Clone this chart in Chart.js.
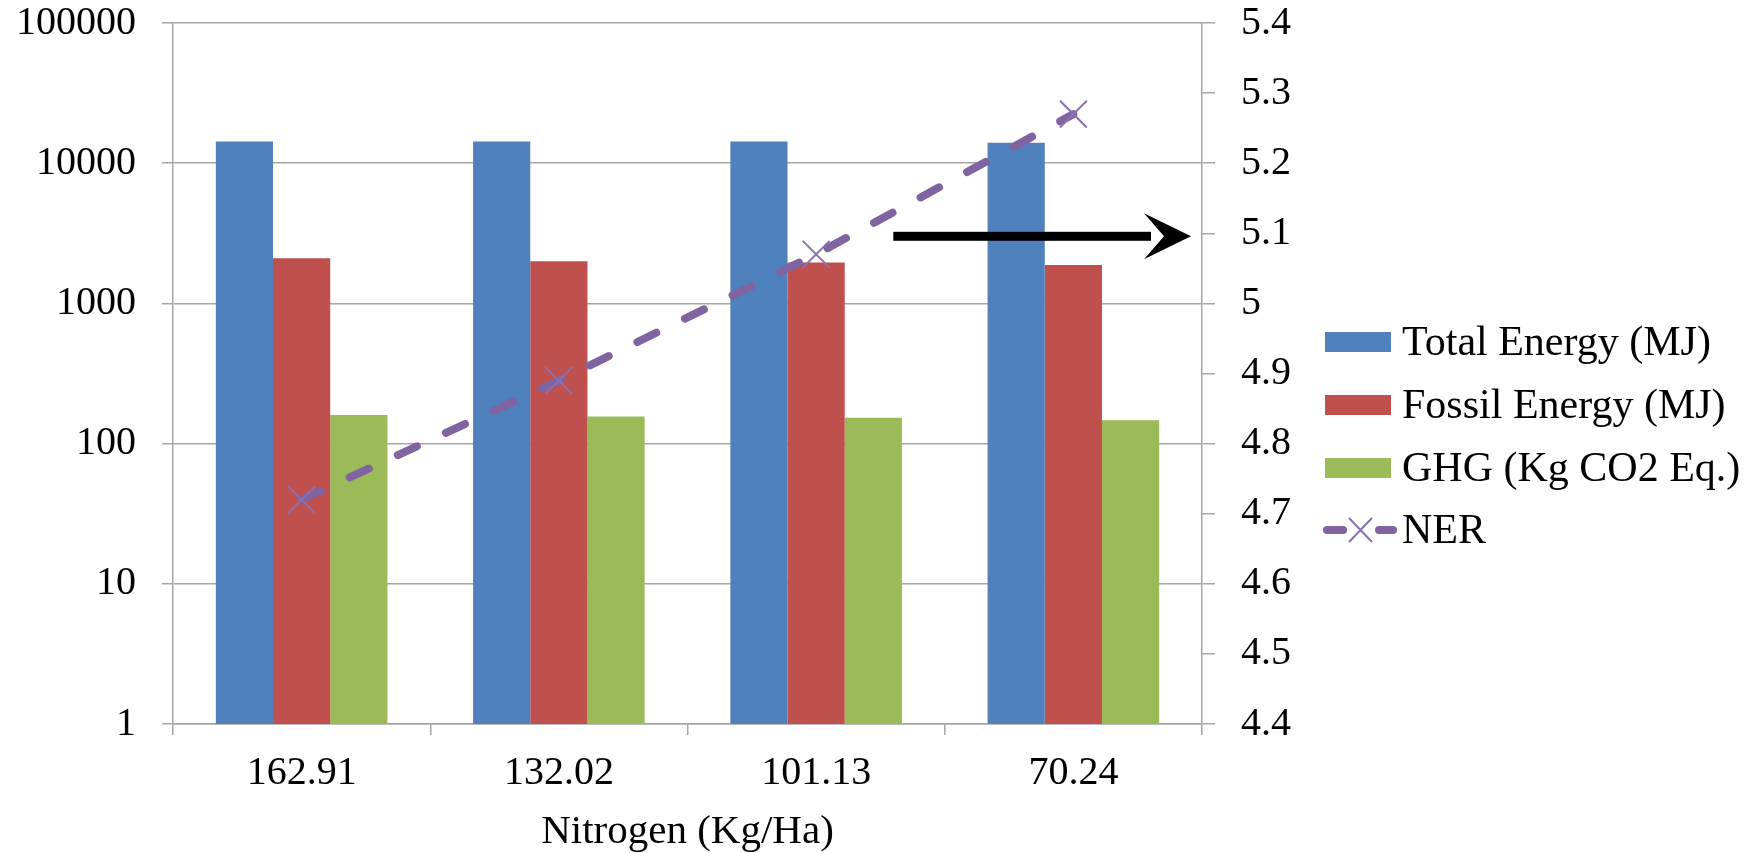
<!DOCTYPE html>
<html lang="en">
<head>
    <meta charset="UTF-8">
    <title>Nitrogen - Energy, GHG and NER</title>
    <script src="https://cdn.jsdelivr.net/npm/chart.js"></script>
    <style>
        html, body { margin: 0; padding: 0; background: #fff; }
        canvas { display: block; }
    </style>
</head>
<body>
    <canvas id="nerChart" width="1758" height="853"></canvas>

    <script>
        // datos
        const categories = ['162.91', '132.02', '101.13', '70.24'];
        const totalEnergy = [14300, 14300, 14300, 14000];
        const fossilEnergy = [2100, 2000, 1960, 1880];
        const ghgValues = [160, 156, 153, 147];
        const nerValues = [4.72, 4.89, 5.07, 5.27];
        const leftTicks = [1, 10, 100, 1000, 10000, 100000];
        const rightTicks = [4.4, 4.5, 4.6, 4.7, 4.8, 4.9, 5.0, 5.1, 5.2, 5.3, 5.4];
        const arrowTarget = 5.1;

        const serif = '"Liberation Serif", "Times New Roman", serif';
        const gridGray = '#a6a6a6';
        const purple = '#8064A2';

        // leyenda dibujada a mano (Excel la pone un poco mas abajo del centro)
        const excelLegend = {
            id: 'excelLegend',
            afterDraw(chart) {
                const ctx = chart.ctx;
                const area = chart.chartArea;
                const boxX = area.right + 123;
                const textX = boxX + 77;
                const rows = [342, 405, 468, 530];
                ctx.save();
                ctx.font = '42px ' + serif;
                ctx.fillStyle = '#000';
                ctx.textBaseline = 'middle';
                chart.data.datasets.forEach((ds, i) => {
                    const y = rows[i];
                    if (ds.type === 'line') {
                        ctx.strokeStyle = purple;
                        ctx.lineWidth = 8;
                        ctx.lineCap = 'round';
                        ctx.beginPath();
                        ctx.moveTo(boxX + 2, y); ctx.lineTo(boxX + 18, y);
                        ctx.moveTo(boxX + 54, y); ctx.lineTo(boxX + 68, y);
                        ctx.stroke();
                        ctx.strokeStyle = '#8a70b0';
                        ctx.lineWidth = 2;
                        ctx.lineCap = 'butt';
                        ctx.beginPath();
                        ctx.moveTo(boxX + 24, y - 12); ctx.lineTo(boxX + 47, y + 12);
                        ctx.moveTo(boxX + 47, y - 12); ctx.lineTo(boxX + 24, y + 12);
                        ctx.stroke();
                    } else {
                        ctx.fillStyle = ds.backgroundColor;
                        ctx.fillRect(boxX, y - 10, 66, 20);
                    }
                    ctx.fillStyle = '#000';
                    ctx.fillText(ds.label, textX, y + 2);
                });
                ctx.restore();
            }
        };

        // flecha negra que apunta al eje derecho
        const axisArrow = {
            id: 'axisArrow',
            afterDraw(chart) {
                const ctx = chart.ctx;
                const x = chart.scales.x;
                const y1 = chart.scales.y1;
                const step = x.getPixelForValue(1) - x.getPixelForValue(0);
                const x0 = x.getPixelForValue(2) + step * 0.3;
                const tip = chart.chartArea.right - 11;
                const y = y1.getPixelForValue(arrowTarget) + 3;
                ctx.save();
                ctx.fillStyle = '#000';
                ctx.fillRect(x0, y - 4.5, tip - x0 - 40, 9);
                ctx.beginPath();
                ctx.moveTo(tip, y);
                ctx.lineTo(tip - 47, y - 23);
                ctx.lineTo(tip - 27, y);
                ctx.lineTo(tip - 47, y + 23);
                ctx.closePath();
                ctx.fill();
                ctx.restore();
            }
        };

        const noVPad = (w) => (s) => { s.width = w; s.paddingTop = 0; s.paddingBottom = 0; };

        const ctx = document.getElementById('nerChart').getContext('2d');
        new Chart(ctx, {
            data: {
                labels: categories,
                datasets: [
                    {
                        type: 'bar',
                        label: 'Total Energy (MJ)',
                        data: totalEnergy,
                        backgroundColor: '#4F81BD',
                        yAxisID: 'y',
                        order: 1
                    },
                    {
                        type: 'bar',
                        label: 'Fossil Energy (MJ)',
                        data: fossilEnergy,
                        backgroundColor: '#C0504D',
                        yAxisID: 'y',
                        order: 1
                    },
                    {
                        type: 'bar',
                        label: 'GHG (Kg CO2 Eq.)',
                        data: ghgValues,
                        backgroundColor: '#9BBB59',
                        yAxisID: 'y',
                        order: 1
                    },
                    {
                        type: 'line',
                        label: 'NER',
                        data: nerValues,
                        yAxisID: 'y1',
                        order: 0,
                        borderColor: purple,
                        borderWidth: 8,
                        borderDash: [21, 32],
                        borderCapStyle: 'round',
                        pointStyle: 'crossRot',
                        pointRadius: 19,
                        pointBorderWidth: 2,
                        pointBorderColor: '#8a70b0',
                        pointBackgroundColor: '#8a70b0',
                        tension: 0,
                        fill: false
                    }
                ]
            },
            options: {
                responsive: false,
                animation: false,
                layout: { padding: { top: 23, left: 0, right: 0, bottom: 0 } },
                datasets: {
                    bar: { categoryPercentage: 0.667, barPercentage: 1.0 }
                },
                plugins: {
                    legend: { display: false },
                    tooltip: { enabled: false }
                },
                scales: {
                    x: {
                        offset: true,
                        grid: {
                            offset: true,
                            drawOnChartArea: false,
                            tickLength: 11,
                            color: gridGray,
                            lineWidth: 1.5
                        },
                        border: { color: gridGray, width: 1.5 },
                        ticks: { color: '#000', font: { family: serif, size: 40 }, padding: 14, maxRotation: 0 },
                        title: {
                            display: true,
                            text: 'Nitrogen (Kg/Ha)',
                            color: '#000',
                            font: { family: serif, size: 41, lineHeight: 1 },
                            padding: { top: 0, bottom: 0 }
                        },
                        afterFit: (s) => { s.height = 129; s.paddingLeft = 0; s.paddingRight = 0; }
                    },
                    y: {
                        type: 'logarithmic',
                        position: 'left',
                        min: leftTicks[0],
                        max: leftTicks[leftTicks.length - 1],
                        afterBuildTicks: (s) => { s.ticks = leftTicks.map(v => ({ value: v })); },
                        grid: { color: gridGray, lineWidth: 1.5, tickLength: 11 },
                        border: { color: gridGray, width: 1.5 },
                        ticks: {
                            color: '#000',
                            font: { family: serif, size: 40 },
                            padding: 26,
                            callback: (v) => String(v)
                        },
                        afterFit: noVPad(173)
                    },
                    y1: {
                        type: 'linear',
                        position: 'right',
                        min: rightTicks[0],
                        max: rightTicks[rightTicks.length - 1],
                        afterBuildTicks: (s) => { s.ticks = rightTicks.map(v => ({ value: v })); },
                        grid: { drawOnChartArea: false, color: gridGray, lineWidth: 1.5, tickLength: 13 },
                        border: { color: gridGray, width: 1.5 },
                        ticks: {
                            color: '#000',
                            font: { family: serif, size: 40 },
                            padding: 26,
                            callback: (v) => String(Math.round(v * 10) / 10)
                        },
                        afterFit: noVPad(556)
                    }
                }
            },
            plugins: [excelLegend, axisArrow]
        });
    </script>
</body>
</html>
